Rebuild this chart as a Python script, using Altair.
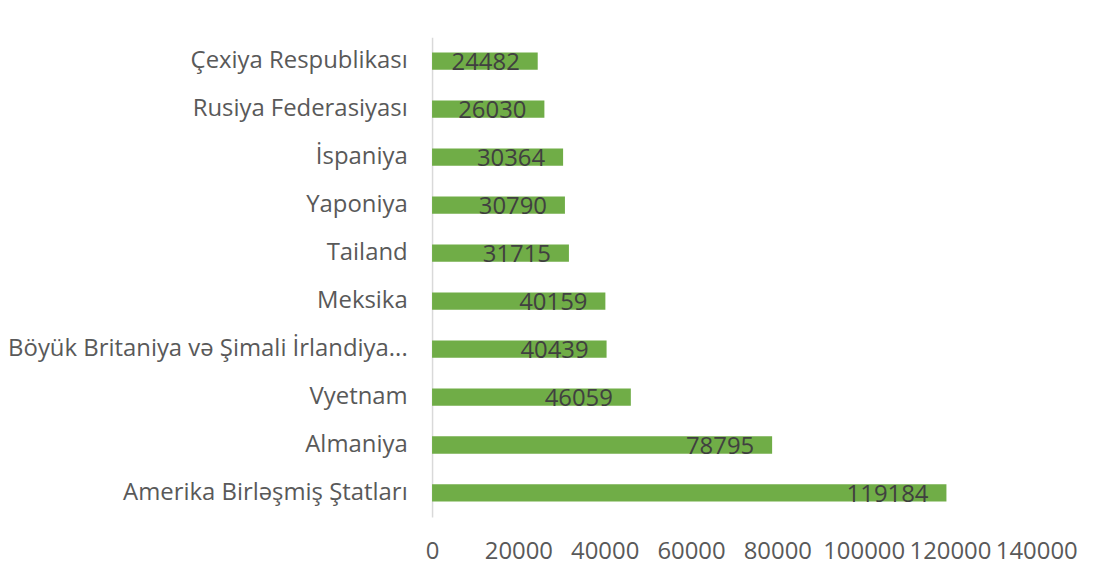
import altair as alt
import pandas as pd

countries = [
    "Çexiya Respublikası",
    "Rusiya Federasiyası",
    "İspaniya",
    "Yaponiya",
    "Tailand",
    "Meksika",
    "Böyük Britaniya və Şimali İrlandiya...",
    "Vyetnam",
    "Almaniya",
    "Amerika Birləşmiş Ştatları",
]
values = [24482, 26030, 30364, 30790, 31715, 40159, 40439, 46059, 78795, 119184]
x_ticks = [0, 20000, 40000, 60000, 80000, 100000, 120000, 140000]

df = pd.DataFrame({"country": countries, "value": values})
FONT = "Open Sans"
FS = 24

base = alt.Chart(df).encode(
    y=alt.Y(
        "country:N",
        sort=countries,
        title=None,
        scale=alt.Scale(paddingInner=0.64, paddingOuter=0.32),
        axis=alt.Axis(
            domain=True, domainColor="#D9D9D9", domainWidth=1.5, ticks=False,
            labelFont=FONT, labelFontSize=FS, labelColor="#595959",
            labelPadding=25, labelLimit=420,
        ),
    ),
    x=alt.X(
        "value:Q",
        title=None,
        scale=alt.Scale(domain=[0, 140000], nice=False),
        axis=alt.Axis(
            values=x_ticks, format="d", domain=False, ticks=False, grid=False,
            labelFont=FONT, labelFontSize=FS, labelColor="#595959",
            labelPadding=23, labelFlush=False,
        ),
    ),
)

bars = base.mark_bar(color="#70AD47")
labels = base.mark_text(
    align="right", baseline="middle", dx=-18, dy=2,
    font=FONT, fontSize=FS, color="#404040",
).encode(text=alt.Text("value:Q", format="d"))

chart = (bars + labels).properties(
    width=607, height=482,
    padding={"left": 426, "top": 28, "right": 60, "bottom": 60},
    autosize=alt.AutoSizeParams(type="none"),
    background="white",
).configure_view(stroke=None)

chart.save("out.html", embed_options={"renderer": "svg", "actions": False})
